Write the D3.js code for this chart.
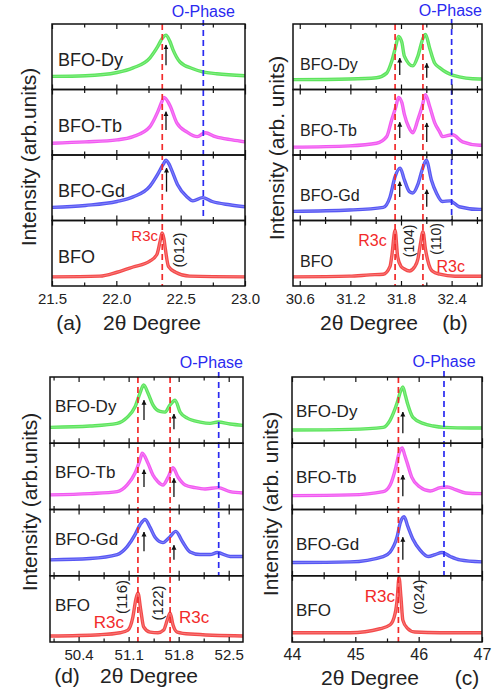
<!DOCTYPE html>
<html>
<head>
<meta charset="utf-8">
<script src="https://cdn.jsdelivr.net/npm/d3@7"></script>
<style>
  body { margin: 0; background: #fff; }
  svg { display: block; font-family: "Liberation Sans", Arial, sans-serif; }
</style>
</head>
<body>
<svg id="fig" width="494" height="696"></svg>
<script>
// Samples, stacked top to bottom in every panel
const samples = ["BFO-Dy", "BFO-Tb", "BFO-Gd", "BFO"];
const sampleColors = ["#3fe03f", "#f03cf0", "#3a3af2", "#f22a2a"];

// Tick labels (2θ, degrees)
const ticksA = [21.5, 22.0, 22.5, 23.0];
const ticksB = [30.6, 31.2, 31.8, 32.4];
const ticksD = [50.4, 51.1, 51.8, 52.5];
const ticksC = [44, 45, 46, 47];

// (a) (012) reflection — [2θ, intensity in % of the strip]
const a_Dy = [[21.5,20],[21.76,21],[22.005,26],[22.13,33],[22.26,48],[22.32,65],[22.36,79],[22.385,83],[22.415,74],[22.44,61],[22.495,42],[22.59,32],[22.67,27],[22.78,24],[23.0,21]];
const a_Tb = [[21.5,18],[21.76,20],[22.005,23],[22.13,28],[22.26,43],[22.32,65],[22.355,82],[22.37,88],[22.405,80],[22.42,74],[22.47,49],[22.55,35],[22.63,28],[22.69,34],[22.77,28],[22.9,23],[23.0,20]];
const a_Gd = [[21.5,20],[21.76,23],[22.005,29],[22.13,36],[22.26,52],[22.32,70],[22.365,86],[22.385,92],[22.41,86],[22.43,77],[22.475,55],[22.55,36],[22.595,30],[22.67,35],[22.745,29],[22.88,24],[23.0,21]];
const a_BFO = [[21.5,14],[21.87,15],[22.005,21],[22.13,29],[22.26,38],[22.315,48],[22.34,68],[22.355,81],[22.37,72],[22.38,58],[22.405,30],[22.46,21],[22.57,15],[23.0,14]];

// (b) (104)/(110) doublet
const b_Dy = [[30.52,15],[31.19,16],[31.51,18],[31.63,25],[31.69,43],[31.74,67],[31.77,81],[31.81,72],[31.84,51],[31.94,36],[32.0,51],[32.06,78],[32.09,84],[32.14,63],[32.2,40],[32.26,33],[32.41,22],[32.73,16],[32.76,16]];
const b_Tb = [[30.52,12],[31.19,14],[31.51,18],[31.63,28],[31.69,54],[31.74,74],[31.77,88],[31.81,80],[31.84,62],[31.89,43],[31.94,34],[32.0,54],[32.05,74],[32.09,92],[32.14,74],[32.2,49],[32.26,35],[32.29,28],[32.41,31],[32.53,20],[32.73,15],[32.76,15]];
const b_Gd = [[30.52,14],[31.19,16],[31.59,20],[31.67,36],[31.73,67],[31.79,80],[31.84,62],[31.9,44],[31.94,42],[32.0,55],[32.05,77],[32.1,92],[32.16,62],[32.22,42],[32.29,29],[32.38,30],[32.49,21],[32.73,17],[32.76,17]];
const b_BFO = [[30.52,14],[31.19,15],[31.43,17],[31.59,18],[31.67,30],[31.69,45],[31.73,85],[31.76,45],[31.8,30],[31.84,26],[31.9,23],[31.96,29],[32.0,41],[32.03,64],[32.06,83],[32.09,56],[32.13,33],[32.17,23],[32.26,18],[32.44,15],[32.76,15]];

// (d) (116)/(122) doublet
const d_Dy = [[50.0,24],[50.56,26],[50.94,30],[51.08,39],[51.19,55],[51.26,76],[51.31,88],[51.37,76],[51.44,58],[51.54,48],[51.61,47],[51.68,58],[51.75,65],[51.82,47],[51.92,38],[52.1,32],[52.24,30],[52.35,32],[52.52,29],[52.7,27]];
const d_Tb = [[50.0,22],[50.56,24],[50.94,27],[51.08,37],[51.19,55],[51.26,75],[51.29,85],[51.37,70],[51.44,52],[51.51,42],[51.58,37],[51.65,48],[51.72,63],[51.79,49],[51.89,37],[52.03,33],[52.17,31],[52.35,33],[52.52,27],[52.7,25]];
const d_Gd = [[50.0,24],[50.56,26],[50.94,32],[51.08,44],[51.19,62],[51.26,77],[51.33,85],[51.4,73],[51.47,58],[51.58,50],[51.68,59],[51.76,67],[51.85,52],[51.96,36],[52.1,32],[52.24,32],[52.34,35],[52.52,29],[52.7,29]];
const d_BFO = [[50.0,9],[50.7,11],[50.98,14],[51.09,18],[51.16,38],[51.2,64],[51.23,74],[51.27,48],[51.31,23],[51.4,15],[51.51,14],[51.59,18],[51.64,33],[51.68,44],[51.72,26],[51.78,15],[51.96,12],[52.7,9]];

// (c) (024) reflection
const c_Dy = [[44.0,20],[44.92,21],[45.44,24],[45.55,35],[45.66,61],[45.72,80],[45.75,85],[45.79,72],[45.83,58],[45.91,39],[46.07,30],[46.23,26],[46.4,24],[46.81,23],[47.0,23]];
const c_Tb = [[44.0,21],[44.92,22],[45.44,27],[45.55,37],[45.64,64],[45.69,85],[45.74,93],[45.78,82],[45.82,70],[45.89,49],[46.02,34],[46.18,28],[46.34,33],[46.45,34],[46.58,30],[46.74,25],[47.0,24]];
const c_Gd = [[44.0,20],[44.92,21],[45.44,29],[45.55,36],[45.66,59],[45.71,80],[45.77,89],[45.83,74],[45.91,55],[46.02,39],[46.15,29],[46.26,32],[46.37,35],[46.5,29],[46.65,24],[47.0,21]];
const c_BFO = [[44.0,14],[44.92,14],[45.39,20],[45.55,26],[45.63,44],[45.66,64],[45.69,97],[45.72,68],[45.75,33],[45.82,21],[45.94,15],[46.34,14],[47.0,14]];

// Reference positions: R3c peaks (red) and orthorhombic phase (blue)
const redA = [22.357], blueA = 22.676;
const redB = [31.73, 32.06], blueB = 32.40;
const redD = [51.23, 51.68], blueD = 52.36;
const redC = [45.68], blueC = 46.40;

// Peak-shift arrows: [2θ, strip index, tail %, tip %]
const arrowsA = [[22.386,0,37,68],[22.386,1,38,66],[22.39,2,44,80]];
const arrowsB = [[31.785,0,22,48],[32.105,0,18,40],[31.785,1,26,50],[32.105,1,20,49],[31.785,2,36,59],[32.105,2,21,47]];
const arrowsD = [[51.315,0,35,65],[51.734,0,21,44],[51.315,1,34,60],[51.734,1,19,47],[51.315,2,37,66],[51.734,2,24,46]];
const arrowsC = [[45.75,0,15,47],[45.75,1,20,52],[45.75,2,24,58]];

// Annotations in the BFO strip: [text, 2θ, %, anchor, rotated]
const notesA = [["R3c",22.324,69,"end",false],["(012)",22.487,55,"middle",true]];
const notesB = [["R3c",31.63,61,"end",false],["(104)",31.90,69,"middle",true],["(110)",32.22,72,"middle",true],["R3c",32.22,21,"start",false]];
const notesD = [["(116)",51.007,68,"middle",true],["(122)",51.497,59,"middle",true],["R3c",51.035,21,"end",false],["R3c",51.804,29,"start",false]];
const notesC = [["R3c",45.626,60,"end",false],["(024)",46.005,68,"middle",true]];

const panels = [
  { key: "a", left: 52, right: 245, top: 24, bottom: 286, domain: [21.5, 23.0], ticks: ticksA, step: 0.25, fmt: d3.format(".1f"), tickFont: 15,
    curves: [a_Dy, a_Tb, a_Gd, a_BFO], red: redA, blue: blueA, arrows: arrowsA, notes: notesA, noteFont: 15, idxFont: 15,
    labelDx: 6, labelDy: 42, labelFont: 18, yTitle: "Intensity (arb.units)", yTitleX: 28, yTitleY: 157,
    xTitle: [["(a)", 69], ["2θ Degree", 152]], xTitleY: 330, oTop: 20, oBase: 17 },
  { key: "b", left: 293, right: 482, top: 24, bottom: 286, domain: [30.52, 32.76], ticks: ticksB, step: 0.3, fmt: d3.format(".1f"), tickFont: 15,
    curves: [b_Dy, b_Tb, b_Gd, b_BFO], red: redB, blue: blueB, arrows: arrowsB, notes: notesB, noteFont: 16, idxFont: 14,
    labelDx: 7, labelDy: 46, labelFont: 16, yTitle: "Intensity (arb. units)", yTitleX: 276, yTitleY: 148,
    xTitle: [["2θ Degree", 369], ["(b)", 455]], xTitleY: 330, oTop: 19, oBase: 16 },
  { key: "d", left: 50, right: 243, top: 377, bottom: 642, domain: [50.0, 52.7], ticks: ticksD, step: 0.35, fmt: d3.format(".1f"), tickFont: 15,
    curves: [d_Dy, d_Tb, d_Gd, d_BFO], red: redD, blue: blueD, arrows: arrowsD, notes: notesD, noteFont: 17, idxFont: 15,
    labelDx: 5, labelDy: 35, labelFont: 17, yTitle: "Intensity (arb.units)", yTitleX: 29, yTitleY: 502,
    xTitle: [["(d)", 67], ["2θ Degree", 149]], xTitleY: 683, oTop: 372, oBase: 368 },
  { key: "c", left: 292, right: 482, top: 377, bottom: 642, domain: [44, 47], ticks: ticksC, step: 0.5, fmt: d3.format("d"), tickFont: 16,
    curves: [c_Dy, c_Tb, c_Gd, c_BFO], red: redC, blue: blueC, arrows: arrowsC, notes: notesC, noteFont: 17, idxFont: 15,
    labelDx: 4, labelDy: 40, labelFont: 17, yTitle: "Intensity (arb. units)", yTitleX: 270, yTitleY: 504,
    xTitle: [["2θ Degree", 370], ["(c)", 467]], xTitleY: 685, oTop: 371, oBase: 367 }
];

const svg = d3.select("#fig");
const defs = svg.append("defs");
defs.append("marker")
  .attr("id", "arrowHead")
  .attr("viewBox", "0 0 10 10")
  .attr("refX", 9).attr("refY", 5)
  .attr("markerWidth", 5).attr("markerHeight", 6)
  .attr("markerUnits", "userSpaceOnUse")
  .attr("orient", "auto")
  .append("path").attr("d", "M0,0 L10,5 L0,10 Z").attr("fill", "#111");

panels.forEach(p => {
  const g = svg.append("g").attr("class", "panel-" + p.key);
  const x = d3.scaleLinear(p.domain, [p.left, p.right]);
  const h = (p.bottom - p.top) / samples.length;
  const rows = samples.map((s, i) => {
    const top = p.top + i * h, bottom = top + h;
    return { name: s, top, bottom, y: d3.scaleLinear([0, 100], [bottom, top]) };
  });

  // minor tick positions follow the major spacing
  const t0 = p.ticks[0];
  const minor = d3.range(-20, 40).map(k => +(t0 + k * p.step).toFixed(4))
    .filter(v => v >= p.domain[0] - 1e-9 && v <= p.domain[1] + 1e-9 && !p.ticks.includes(v));

  // diffraction traces
  rows.forEach((r, i) => {
    const clipId = `clip-${p.key}-${i}`;
    defs.append("clipPath").attr("id", clipId)
      .append("rect").attr("x", p.left).attr("y", r.top).attr("width", p.right - p.left).attr("height", h);
    const line = d3.line().x(d => x(d[0])).y(d => r.y(d[1])).curve(d3.curveMonotoneX);
    g.append("path").datum(p.curves[i])
      .attr("clip-path", `url(#${clipId})`)
      .attr("d", line).attr("fill", "none")
      .attr("stroke", sampleColors[i]).attr("stroke-width", 3.4)
      .attr("stroke-opacity", 0.85).attr("stroke-linejoin", "round");
    g.append("path").datum(p.curves[i])
      .attr("clip-path", `url(#${clipId})`)
      .attr("d", line).attr("fill", "none")
      .attr("stroke", "#fff").attr("stroke-width", 0.8).attr("stroke-opacity", 0.35);
  });

  // dashed reference lines
  p.red.forEach(v => {
    g.append("line").attr("x1", x(v)).attr("x2", x(v)).attr("y1", p.top).attr("y2", p.bottom)
      .attr("stroke", "#f22a2a").attr("stroke-width", 1.7).attr("stroke-dasharray", "6,4");
  });
  g.append("line").attr("x1", x(p.blue)).attr("x2", x(p.blue)).attr("y1", p.oTop).attr("y2", rows[2].bottom)
    .attr("stroke", "#2a2af0").attr("stroke-width", 1.7).attr("stroke-dasharray", "6,4");

  // O-phase caption, centred on its line but kept inside the frame
  const oText = g.append("text").text("O-Phase").attr("font-size", 16).attr("fill", "#2a2af0")
    .attr("text-anchor", "middle").attr("x", x(p.blue)).attr("y", p.oBase);
  const ob = oText.node().getBBox();
  if (ob.x + ob.width > p.right) oText.attr("x", p.right - ob.width / 2);

  // frames and inward ticks on every strip
  rows.forEach((r, i) => {
    g.append("rect").attr("x", p.left).attr("y", r.top).attr("width", p.right - p.left).attr("height", h)
      .attr("fill", "none").attr("stroke", "#111").attr("stroke-width", 1.5);
    [[d3.axisTop, r.top], [d3.axisBottom, r.bottom]].forEach(([ax, yy], j) => {
      const isLabelled = (j === 1 && i === rows.length - 1);
      const major = g.append("g").attr("transform", `translate(0,${yy})`)
        .call(ax(x).tickValues(p.ticks).tickSize(-5).tickPadding(7)
          .tickFormat(isLabelled ? p.fmt : () => ""));
      const minorAx = g.append("g").attr("transform", `translate(0,${yy})`)
        .call(ax(x).tickValues(minor).tickSize(-3.5).tickFormat(() => ""));
      [major, minorAx].forEach(a => {
        a.select(".domain").remove();
        a.selectAll(".tick line").attr("stroke", "#111").attr("stroke-width", 1.2);
      });
      major.selectAll(".tick text").attr("font-size", p.tickFont).attr("fill", "#222")
        .attr("font-family", "Liberation Sans, Arial, sans-serif");
    });
    // sample name
    g.append("text").text(r.name).attr("x", p.left + p.labelDx).attr("y", r.top + p.labelDy)
      .attr("font-size", p.labelFont).attr("fill", "#222");
  });

  // arrows marking the peak shift
  p.arrows.forEach(([v, row, y0, y1]) => {
    const r = rows[row];
    g.append("line").attr("x1", x(v)).attr("x2", x(v)).attr("y1", r.y(y0)).attr("y2", r.y(y1))
      .attr("stroke", "#111").attr("stroke-width", 1.3).attr("marker-end", "url(#arrowHead)");
  });

  // BFO strip annotations
  const base = rows[3];
  p.notes.forEach(([txt, v, pct, anchor, rotated]) => {
    const t = g.append("text").text(txt);
    if (rotated) {
      t.attr("transform", `translate(${x(v)},${base.y(pct)}) rotate(-90)`)
        .attr("text-anchor", "middle").attr("dominant-baseline", "central")
        .attr("font-size", p.idxFont).attr("fill", "#222");
    } else {
      t.attr("x", x(v)).attr("y", base.y(pct)).attr("text-anchor", anchor)
        .attr("font-size", p.noteFont).attr("fill", "#f22a2a");
    }
  });

  // axis titles
  g.append("text").text(p.yTitle)
    .attr("transform", `translate(${p.yTitleX},${p.yTitleY}) rotate(-90)`)
    .attr("text-anchor", "middle").attr("dominant-baseline", "central")
    .attr("font-size", 21).attr("fill", "#222");
  p.xTitle.forEach(([txt, cx]) => {
    g.append("text").text(txt).attr("x", cx).attr("y", p.xTitleY)
      .attr("text-anchor", "middle").attr("font-size", 21).attr("fill", "#222");
  });
});
</script>
</body>
</html>
